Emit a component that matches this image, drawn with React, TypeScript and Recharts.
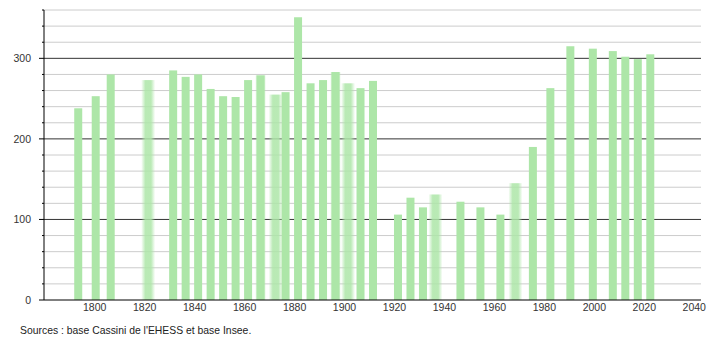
import React from "react";
import { BarChart, Bar, XAxis, YAxis, CartesianGrid } from "recharts";

const years = [
  1793, 1800, 1806, 1821, 1831, 1836, 1841, 1846, 1851, 1856, 1861, 1866, 1872, 1876,
  1881, 1886, 1891, 1896, 1901, 1906, 1911, 1921, 1926, 1931, 1936, 1946, 1954, 1962,
  1968, 1975, 1982, 1990, 1999, 2007, 2012, 2017, 2022,
];
const population = [
  238, 253, 280, 273, 285, 277, 280, 262, 253, 252, 273, 279, 255, 258,
  351, 269, 273, 283, 269, 263, 272, 106, 127, 115, 131, 122, 115, 106,
  145, 190, 263, 315, 312, 309, 302, 299, 305,
];
const strongBlurYears = [1821, 1872, 1901, 1936, 1968];
const lightBlurYears = [1866, 1896];

const xTicks = [1800, 1820, 1840, 1860, 1880, 1900, 1920, 1940, 1960, 1980, 2000, 2020, 2040];
const yTicks = [0, 20, 40, 60, 80, 100, 120, 140, 160, 180, 200, 220, 240, 260, 280, 300, 320, 340, 360];
const yLabelTicks = [0, 100, 200, 300];
const yDomain: [number, number] = [0, 360];
const minorGrid = [20, 40, 60, 80, 120, 140, 160, 180, 220, 240, 260, 280, 320, 340, 360];
const majorGrid = [100, 200, 300];

const data = years.map((y, i) => ({ year: y, pop: population[i] }));

const BAR = "#ade6a8";
const FONT = "'Liberation Sans', Arial, sans-serif";

const BarShape = (props: any) => {
  const { y, width, height, payload } = props;
  const x = props.x + 1;
  if (!(height > 0)) return null;
  const yr = payload.year;
  if (strongBlurYears.includes(yr)) {
    const id = `gs${yr}`;
    return (
      <g>
        <defs>
          <linearGradient id={id} x1="0" x2="1" y1="0" y2="0">
            <stop offset="0" stopColor={BAR} stopOpacity={0} />
            <stop offset="0.3" stopColor={BAR} stopOpacity={0.85} />
            <stop offset="0.7" stopColor={BAR} stopOpacity={0.85} />
            <stop offset="1" stopColor={BAR} stopOpacity={0} />
          </linearGradient>
        </defs>
        <rect x={x - 3} y={y} width={width + 6} height={height} fill={`url(#${id})`} />
      </g>
    );
  }
  if (lightBlurYears.includes(yr)) {
    const id = `gl${yr}`;
    return (
      <g>
        <defs>
          <linearGradient id={id} x1="0" x2="1" y1="0" y2="0">
            <stop offset="0" stopColor={BAR} stopOpacity={0.2} />
            <stop offset="0.15" stopColor={BAR} stopOpacity={1} />
            <stop offset="0.85" stopColor={BAR} stopOpacity={1} />
            <stop offset="1" stopColor={BAR} stopOpacity={0.2} />
          </linearGradient>
        </defs>
        <rect x={x - 1} y={y} width={width + 2} height={height} fill={`url(#${id})`} />
      </g>
    );
  }
  return <rect x={x} y={y} width={width} height={height} fill={BAR} />;
};

const YTick = (props: any) => {
  const { x, y, payload } = props;
  const v = payload.value;
  const major = yLabelTicks.includes(v);
  return (
    <g>
      <line x1={major ? x - 5 : x - 2} x2={x} y1={y} y2={y} stroke="#000" strokeWidth={1} />
      {major && (
        <text x={x - 13} y={y} dy="0.35em" textAnchor="end" fill="#333" fontSize={10.5} fontFamily={FONT}>
          {v}
        </text>
      )}
    </g>
  );
};

const gridGen = (vals: number[]) => (props: any) => {
  const s = props?.yAxis?.scale;
  if (typeof s === "function") return vals.map((v) => s(v));
  if (s && typeof s.map === "function") return vals.map((v) => s.map(v));
  const off = props.offset;
  const [d0, d1] = yDomain;
  return vals.map((v) => off.top + off.height * (1 - (v - d0) / (d1 - d0)));
};

export default function App() {
  return (
    <div style={{ position: "absolute", left: 0, top: 0, width: 710, height: 340, background: "#fff" }}>
      <BarChart width={710} height={340} data={data} margin={{ top: 10, right: 9, bottom: 0, left: 0 }}>
        <CartesianGrid vertical={false} stroke="#cccccc" horizontalCoordinatesGenerator={gridGen(minorGrid)} />
        <CartesianGrid vertical={false} stroke="#333" horizontalCoordinatesGenerator={gridGen(majorGrid)} />
        <XAxis
          dataKey="year"
          type="number"
          domain={[1779.7, 2042.7]}
          ticks={xTicks}
          tickLine={false}
          tickSize={0}
          tickMargin={4}
          height={40}
          axisLine={{ stroke: "#000" }}
          tick={{ fill: "#333", fontSize: 10.5, fontFamily: FONT }}
          allowDataOverflow
        />
        <YAxis
          type="number"
          domain={yDomain}
          ticks={yTicks}
          interval={0}
          width={44}
          tickLine={false}
          tickSize={0}
          tickMargin={0}
          axisLine={{ stroke: "#000" }}
          tick={<YTick />}
        />
        <Bar dataKey="pop" barSize={8} shape={<BarShape />} isAnimationActive={false} />
      </BarChart>
      <div
        style={{
          position: "absolute",
          left: 20,
          top: 324,
          fontFamily: FONT,
          fontSize: 10.4,
          color: "#222",
          lineHeight: "13px",
          whiteSpace: "nowrap",
        }}
      >
        Sources : base Cassini de l'EHESS et base Insee.
      </div>
    </div>
  );
}
